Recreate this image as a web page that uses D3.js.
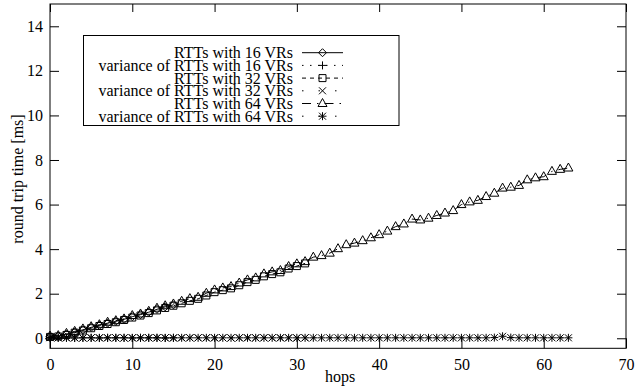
<!DOCTYPE html>
<html>
<head>
<meta charset="utf-8">
<script src="https://cdn.jsdelivr.net/npm/d3@7"></script>
<style>
  body { margin: 0; background: #fff; }
  svg text { font-family: "Liberation Serif", "Times New Roman", serif; font-size: 16px; fill: #000; }
</style>
</head>
<body>
<svg id="chart" width="636" height="389"></svg>
<script>
// round trip time per hop count
const hops64 = d3.range(0, 64);
const hops32 = d3.range(0, 32);
const hops16 = d3.range(0, 16);

const rtt16 = [0.08, 0.10, 0.19, 0.28, 0.38, 0.49, 0.58, 0.68, 0.76, 0.85, 0.97, 1.06, 1.17, 1.30, 1.41, 1.50];
const var16 = [0.03, 0.02, 0.02, 0.01, 0.02, 0.02, 0.01, 0.02, 0.02, 0.02, 0.01, 0.02, 0.02, 0.02, 0.01, 0.02];

const rtt32 = [0.06, 0.08, 0.15, 0.25, 0.35, 0.45, 0.55, 0.64, 0.72, 0.82, 0.93, 1.02, 1.13, 1.25, 1.36, 1.46,
               1.57, 1.68, 1.77, 1.92, 2.07, 2.16, 2.24, 2.38, 2.52, 2.62, 2.78, 2.88, 2.96, 3.13, 3.24, 3.36];
const var32 = [0.03, 0.02, 0.02, 0.02, 0.01, 0.02, 0.02, 0.02, 0.02, 0.01, 0.02, 0.02, 0.02, 0.02, 0.02, 0.01,
               0.02, 0.02, 0.02, 0.02, 0.02, 0.02, 0.01, 0.02, 0.02, 0.02, 0.02, 0.02, 0.02, 0.02, 0.01, 0.02];

const rtt64 = [0.10, 0.12, 0.22, 0.31, 0.42, 0.52, 0.61, 0.72, 0.79, 0.87, 1.02, 1.09, 1.21, 1.35, 1.46, 1.54,
               1.66, 1.78, 1.84, 2.02, 2.17, 2.26, 2.32, 2.48, 2.62, 2.71, 2.89, 2.98, 3.04, 3.22, 3.34, 3.44,
               3.64, 3.71, 3.82, 4.02, 4.20, 4.27, 4.38, 4.51, 4.65, 4.81, 5.01, 5.13, 5.35, 5.31, 5.39, 5.51,
               5.62, 5.73, 6.00, 6.12, 6.19, 6.36, 6.51, 6.74, 6.78, 6.86, 7.11, 7.20, 7.25, 7.49, 7.58, 7.64];
const var64 = [0.03, 0.02, 0.02, 0.02, 0.02, 0.02, 0.02, 0.02, 0.02, 0.02, 0.02, 0.02, 0.02, 0.02, 0.02, 0.02,
               0.02, 0.02, 0.02, 0.02, 0.02, 0.02, 0.02, 0.02, 0.02, 0.02, 0.02, 0.02, 0.02, 0.02, 0.02, 0.02,
               0.02, 0.02, 0.02, 0.02, 0.02, 0.02, 0.02, 0.02, 0.02, 0.02, 0.02, 0.02, 0.02, 0.02, 0.02, 0.02,
               0.02, 0.02, 0.02, 0.02, 0.02, 0.02, 0.03, 0.09, 0.03, 0.02, 0.02, 0.02, 0.02, 0.02, 0.02, 0.02];

const xTicks = [0, 10, 20, 30, 40, 50, 60, 70];
const yTicks = [0, 2, 4, 6, 8, 10, 12, 14];

const seriesNames = ["RTTs with 16 VRs", "variance of RTTs with 16 VRs", "RTTs with 32 VRs",
                     "variance of RTTs with 32 VRs", "RTTs with 64 VRs", "variance of RTTs with 64 VRs"];
const seriesHops = [hops16, hops16, hops32, hops32, hops64, hops64];
const seriesValues = [rtt16, var16, rtt32, var32, rtt64, var64];
const seriesMarks = ["diamond", "plus", "square", "cross", "triangle", "star"];
const seriesDash = [null, "1.5,6.5", "4,4", "1.5,15", "9,6,1.5,6", "1.5,15"];

const plotLeft = 50, plotRight = 626, plotTop = 4, plotBottom = 348.3;

const svg = d3.select("#chart");

const x = d3.scaleLinear().domain([0, 70]).range([plotLeft, plotRight]);
const y = d3.scaleLinear().domain([-0.45, 15]).range([plotBottom, plotTop]);

// ticks: gnuplot style, inward and mirrored
svg.append("g")
  .attr("transform", "translate(0," + plotBottom + ")")
  .call(d3.axisBottom(x).tickValues(xTicks).tickSize(-10).tickPadding(10).tickFormat(d3.format("d")))
  .call(g => g.select(".domain").remove());
svg.append("g")
  .attr("transform", "translate(0," + plotTop + ")")
  .call(d3.axisTop(x).tickValues(xTicks).tickSize(-8).tickFormat(""))
  .call(g => g.select(".domain").remove());
svg.append("g")
  .attr("transform", "translate(" + plotLeft + ",0)")
  .call(d3.axisLeft(y).tickValues(yTicks).tickSize(-9).tickPadding(7).tickFormat(d3.format("d")))
  .call(g => g.select(".domain").remove());
svg.append("g")
  .attr("transform", "translate(" + plotRight + ",0)")
  .call(d3.axisRight(y).tickValues(yTicks).tickSize(-9).tickFormat(""))
  .call(g => g.select(".domain").remove());

svg.selectAll("g").attr("font-family", null).attr("font-size", null);
svg.selectAll(".tick line").attr("stroke", "#000");

svg.append("rect")
  .attr("x", plotLeft).attr("y", plotTop)
  .attr("width", plotRight - plotLeft).attr("height", plotBottom - plotTop)
  .attr("fill", "none").attr("stroke", "#000");

svg.append("text").attr("x", 340).attr("y", 382).attr("text-anchor", "middle").text("hops");
svg.append("text")
  .attr("transform", "translate(23,179) rotate(-90)")
  .attr("text-anchor", "middle")
  .text("round trip time [ms]");

function drawMark(g, type, cx, cy) {
  let d = "";
  if (type == "diamond") d = `M${cx},${cy - 4}L${cx + 4},${cy}L${cx},${cy + 4}L${cx - 4},${cy}Z`;
  if (type == "square") d = `M${cx - 3.5},${cy - 3.5}h7v7h-7Z`;
  if (type == "triangle") d = `M${cx},${cy - 5}L${cx + 4.5},${cy + 3}L${cx - 4.5},${cy + 3}Z`;
  if (type == "plus" || type == "star") d += `M${cx - 4},${cy}h8M${cx},${cy - 4}v8`;
  if (type == "cross" || type == "star") d += `M${cx - 3.5},${cy - 3.5}l7,7M${cx - 3.5},${cy + 3.5}l7,-7`;
  g.append("path").attr("d", d).attr("fill", "none").attr("stroke", "#000").attr("stroke-width", 1);
}

const plot = svg.append("g");
const line = d3.line().x(d => x(d[0])).y(d => y(d[1]));

seriesNames.forEach((name, i) => {
  const pts = seriesHops[i].map((h, j) => [h, seriesValues[i][j]]);
  plot.append("path")
    .attr("d", line(pts))
    .attr("fill", "none")
    .attr("stroke", "#000")
    .attr("stroke-dasharray", seriesDash[i]);
  pts.forEach(p => drawMark(plot, seriesMarks[i], x(p[0]), y(p[1])));
});

// key
const key = svg.append("g");
key.append("rect")
  .attr("x", 83.5).attr("y", 35.5).attr("width", 315.5).attr("height", 90)
  .attr("fill", "#fff").attr("stroke", "#000");

seriesNames.forEach((name, i) => {
  const cy = 52.7 + i * 12.7;
  key.append("text").attr("x", 293).attr("y", cy + 5.5).attr("text-anchor", "end").text(name);
  key.append("line")
    .attr("x1", 302).attr("x2", 343).attr("y1", cy).attr("y2", cy)
    .attr("stroke", "#000")
    .attr("stroke-dasharray", seriesDash[i]);
  drawMark(key, seriesMarks[i], 322.5, cy);
});
</script>
</body>
</html>
